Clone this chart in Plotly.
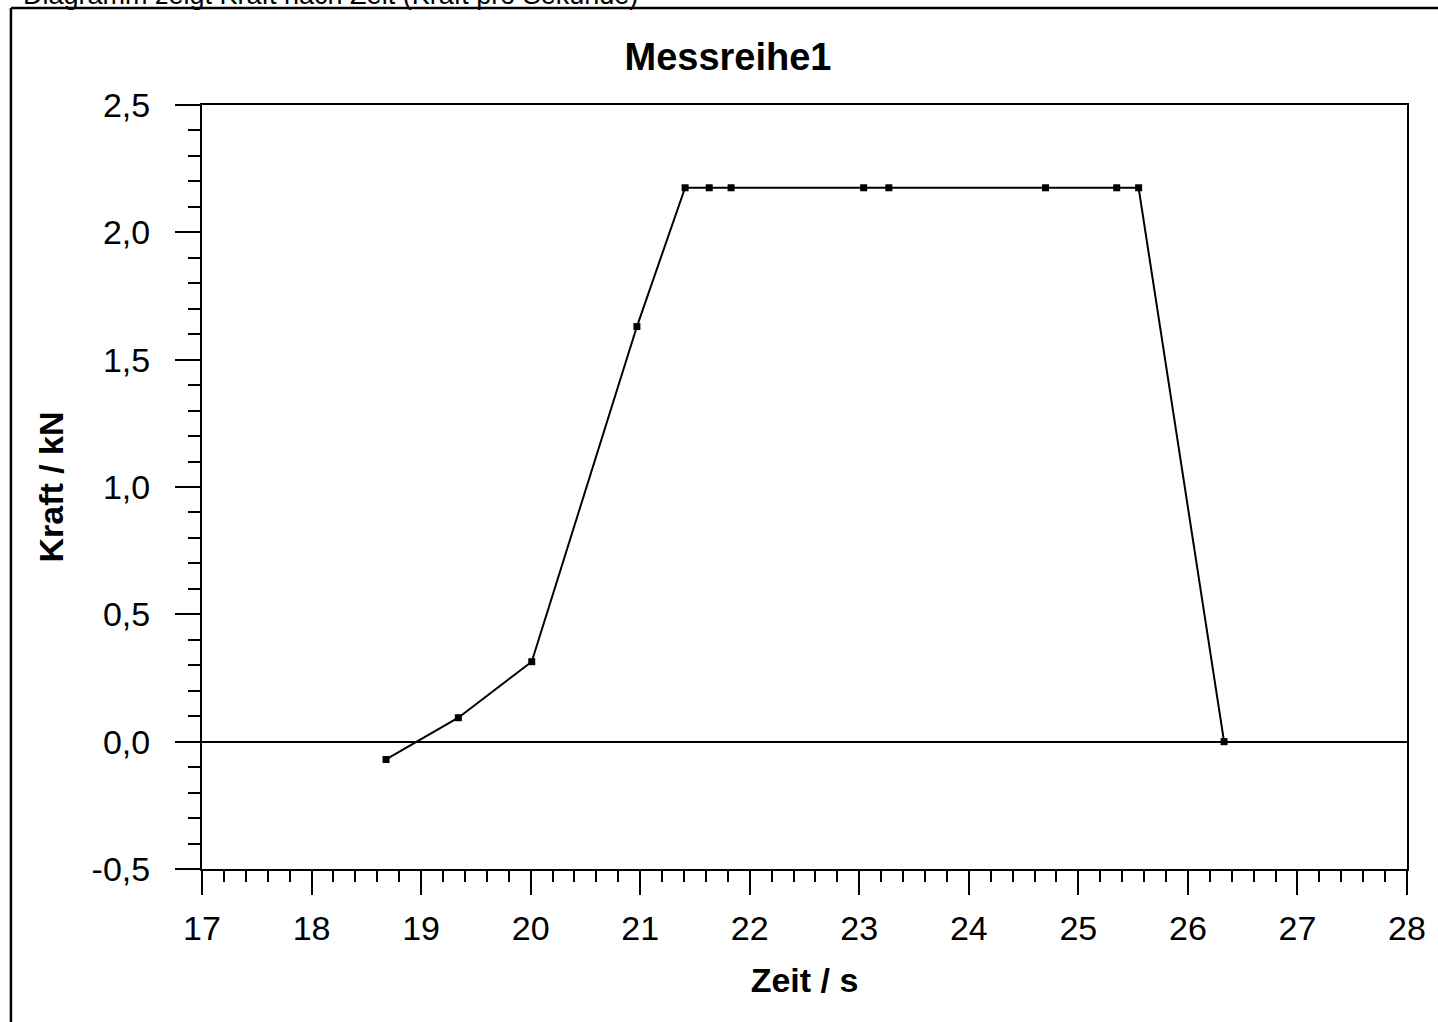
import plotly.graph_objects as go

# Data
zeit_s = [18.68, 19.34, 20.01, 20.97, 21.41, 21.63, 21.83, 23.04, 23.27, 24.70, 25.35, 25.55, 26.33]
kraft_kN = [-0.07, 0.094, 0.314, 1.63, 2.175, 2.175, 2.175, 2.175, 2.175, 2.175, 2.175, 2.175, 0.0]

x_tickvals = [17, 18, 19, 20, 21, 22, 23, 24, 25, 26, 27, 28]
y_tickvals = [-0.5, 0.0, 0.5, 1.0, 1.5, 2.0, 2.5]
y_ticktext = ["-0,5", "0,0", "0,5", "1,0", "1,5", "2,0", "2,5"]

title_text = "Messreihe1"
x_title = "Zeit / s"
y_title = "Kraft / kN"
top_text = "Diagramm zeigt Kraft nach Zeit (Kraft pro Sekunde)"

W, H = 1438, 1022
L, R, T, B = 202, 1413, 105, 869

FONT = "Liberation Sans, Arial, sans-serif"

fig = go.Figure()
fig.add_trace(go.Scatter(
    x=zeit_s, y=kraft_kN, mode="lines+markers",
    line=dict(color="black", width=2),
    marker=dict(symbol="square", size=7, color="black"),
    showlegend=False, hoverinfo="x+y",
))

def px2paper_x(p):
    return (p - L) / (R - L)

def px2paper_y(p):
    return (B - p) / (B - T)

fig.update_layout(
    width=W, height=H,
    margin=dict(l=L, r=W - R, t=T, b=H - B, pad=0),
    paper_bgcolor="white", plot_bgcolor="white",
    separators=",.",
    font=dict(family=FONT, color="black"),
    title=dict(text="<b>" + title_text + "</b>", x=728 / W, xanchor="center",
               xref="container", y=1 - 57 / H, yanchor="middle",
               font=dict(size=38, family=FONT, color="black")),
    xaxis=dict(
        range=[17, 28], tickvals=x_tickvals,
        showgrid=False, zeroline=False,
        showline=True, linecolor="black", linewidth=2, mirror=True,
        ticks="outside", ticklen=24, tickwidth=2, tickcolor="black",
        minor=dict(dtick=0.2, ticks="outside", ticklen=11, tickwidth=2, tickcolor="black", showgrid=False),
        tickfont=dict(size=34, family=FONT, color="black"),
        ticklabelstandoff=4,
        title=dict(text="<b>" + x_title + "</b>", font=dict(size=34, family=FONT, color="black"), standoff=22),
        fixedrange=True,
    ),
    yaxis=dict(
        range=[-0.5, 2.5], tickvals=y_tickvals, ticktext=y_ticktext,
        showgrid=False, zeroline=True, zerolinecolor="black", zerolinewidth=1.5,
        showline=True, linecolor="black", linewidth=2, mirror=True,
        ticks="outside", ticklen=25, tickwidth=2, tickcolor="black",
        minor=dict(dtick=0.1, ticks="outside", ticklen=12, tickwidth=2, tickcolor="black", showgrid=False),
        tickfont=dict(size=34, family=FONT, color="black"),
        ticklabelstandoff=18,
        title=dict(text="<b>" + y_title + "</b>", font=dict(size=34, family=FONT, color="black"), standoff=18),
        fixedrange=True,
    ),
    shapes=[
        # outer frame (cropped at right and bottom)
        dict(type="line", xref="paper", yref="paper",
             x0=px2paper_x(10), x1=px2paper_x(1450), y0=px2paper_y(8), y1=px2paper_y(8),
             line=dict(color="black", width=2.5)),
        dict(type="line", xref="paper", yref="paper",
             x0=px2paper_x(10), x1=px2paper_x(10), y0=px2paper_y(8), y1=px2paper_y(1040),
             line=dict(color="black", width=2.5)),
    ],
    annotations=[
        dict(text=top_text, xref="paper", yref="paper",
             x=px2paper_x(20), xanchor="left", y=px2paper_y(12), yanchor="bottom",
             showarrow=False, font=dict(size=27, family=FONT, color="black")),
    ],
)

fig.write_html("out.html", config={"displayModeBar": False},
               post_script="document.body.style.margin='0';document.body.style.overflow='hidden';")
